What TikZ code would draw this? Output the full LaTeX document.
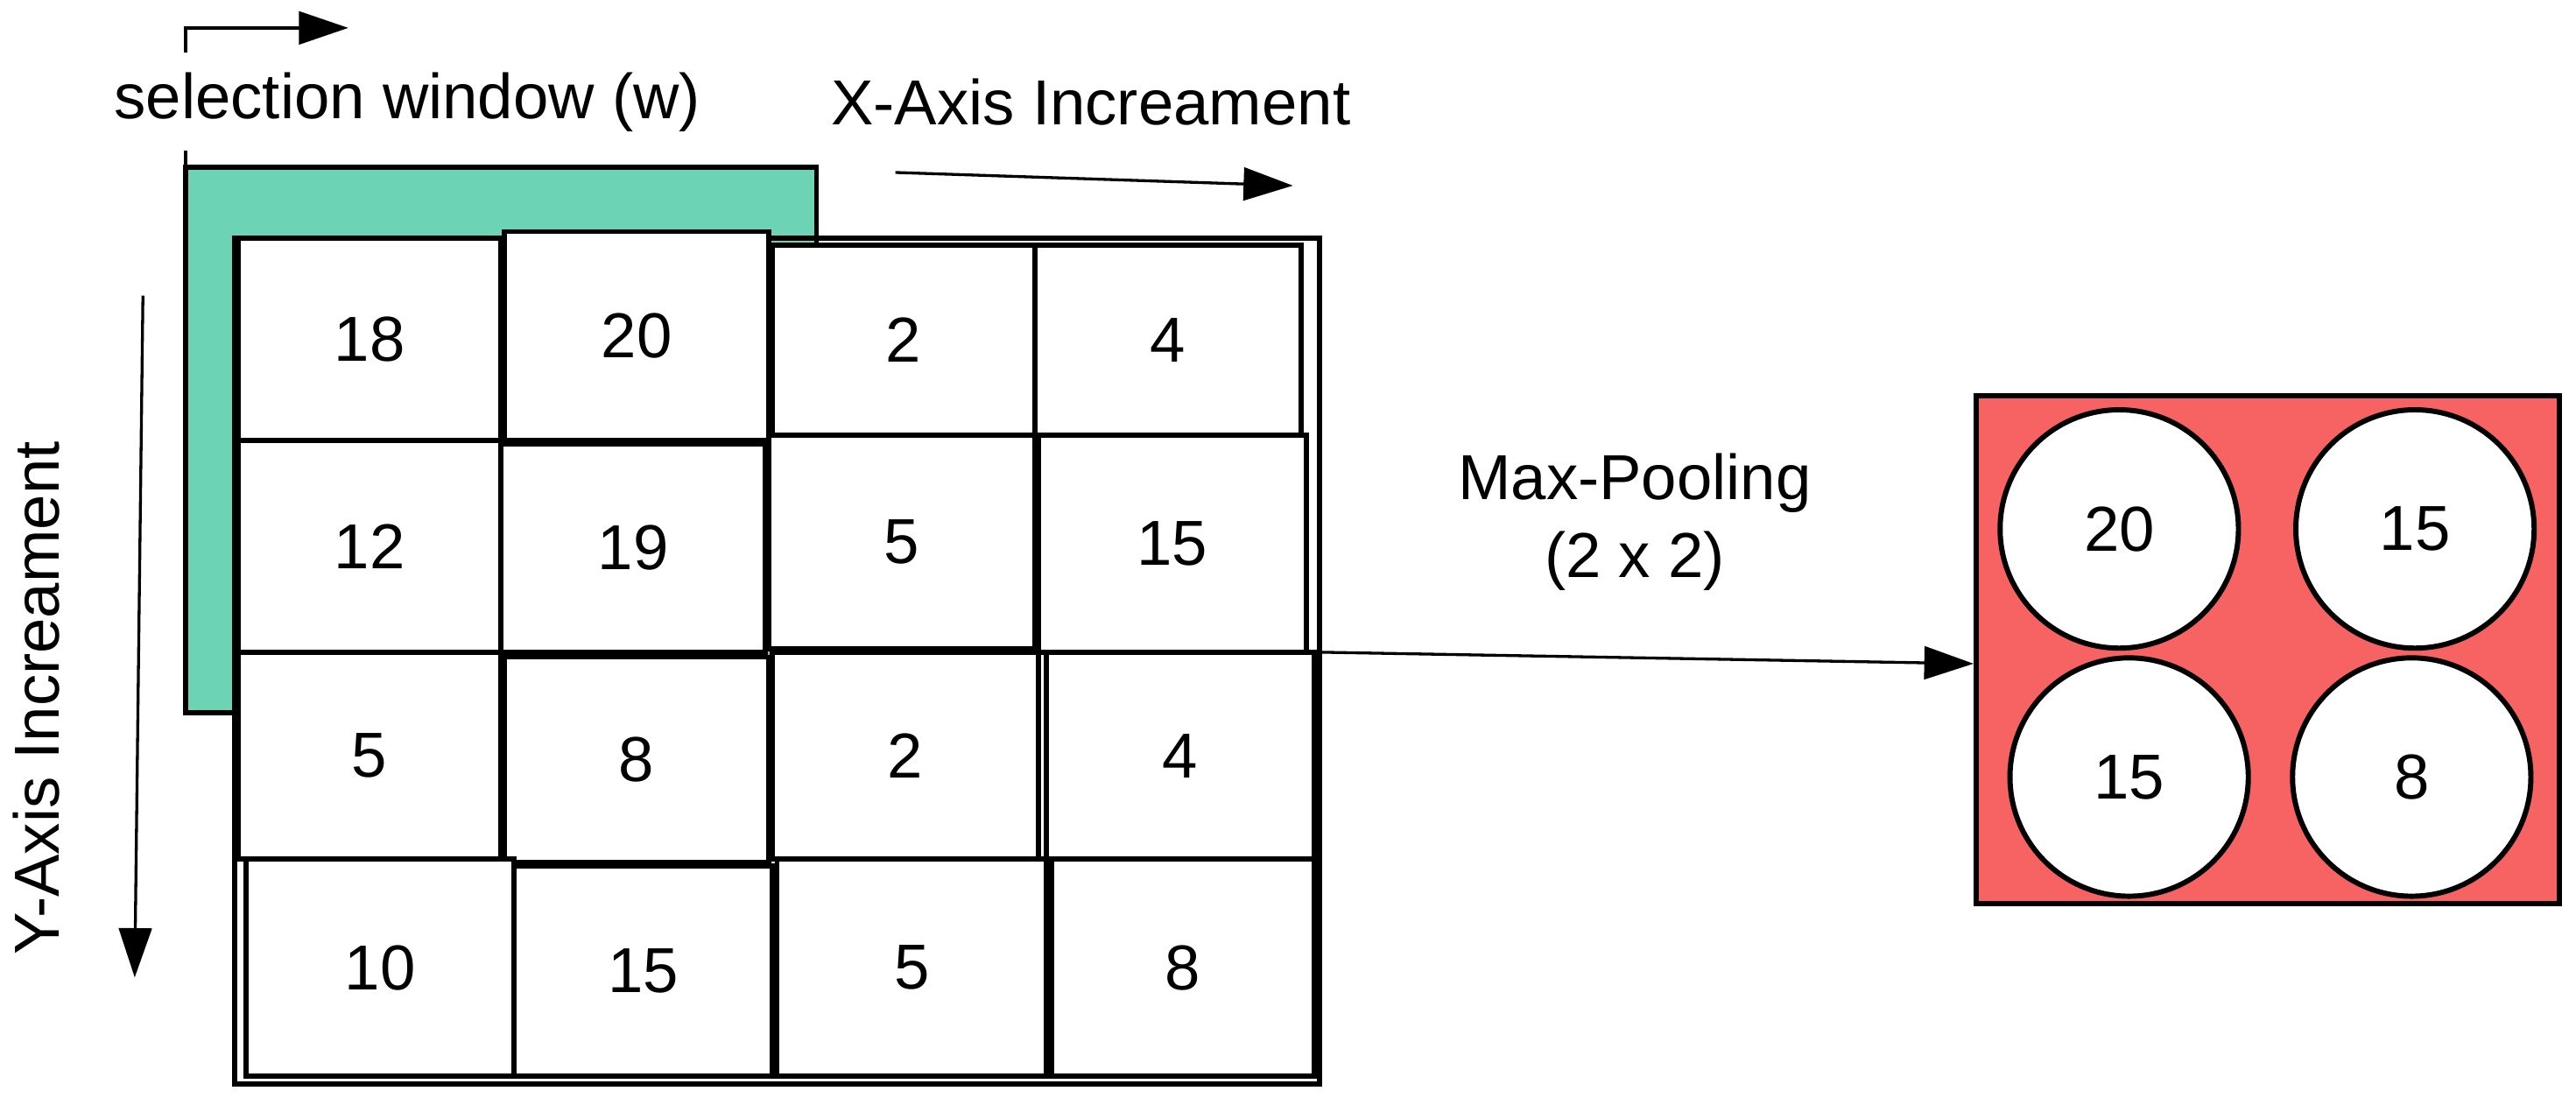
\documentclass[tikz,border=0pt]{standalone}
\usepackage{fontspec}
\setmainfont{Liberation Sans}
\usetikzlibrary{arrows.meta}
\definecolor{teal1}{HTML}{6DD3B5}
\definecolor{red1}{HTML}{F76262}
\begin{document}
\begin{tikzpicture}[x=0.01cm,y=-0.01cm,font=\fontsize{11}{13.5}\selectfont,
 cell/.style={draw,line width=0.9pt,fill=white},
 circ/.style={draw,line width=0.9pt,fill=white,circle,minimum size=1.45cm,inner sep=0pt},
 arr/.style={line width=0.5pt,-{Triangle[length=0.3cm,width=0.2cm]}}]
\useasboundingbox (0,0) rectangle (1568,668);
\fill[white] (0,0) rectangle (1568,668);
\draw[line width=0.9pt,fill=teal1] (113,102) rectangle (497,434);
\draw[line width=0.9pt] (143,145) rectangle (803,660);
\foreach \a/\b/\c/\d/\v [count=\i] in {
145/145/305/268/18, 307/141/468/268/20, 470/149/630/265/2, 630/149/792/265/4,
145/268/305/397/12, 305/270/466/397/19, 468/265/630/395/5, 632/265/795/397/15,
145/397/305/523/5, 307/400/468/525/8, 470/397/632/523/2, 637/397/800/523/4,
150/523/313/655/10, 313/527/470/655/15, 473/523/637/655/5, 640/523/800/655/8}{
 \draw[cell] (\a,\b) rectangle (\c,\d);
 \node (c\i) at ({(\a+\c)/2},{(\b+\d)/2}) {\v};
}
\coordinate (s0) at (113,100);
\coordinate (s1) at (113,17);
\coordinate (s2) at (212,17);
\draw[arr] (s0) -- (s1) -- (s2);
\node[fill=white] (sw) at (248,62) {selection window (w)};
\node (xa) at (664,62) {X-Axis Increament};
\coordinate (x0) at (545,105);
\coordinate (x1) at (787,113);
\draw[arr] (x0) -- (x1);
\coordinate (y0) at (87,180);
\coordinate (y1) at (82,595);
\draw[arr] (y0) -- (y1);
\node[rotate=90] (ya) at (22,425) {Y-Axis Increament};
\node[draw,line width=0.9pt,fill=red1,minimum width=3.55cm,minimum height=3.09cm,inner sep=0pt] (pool) at (1380.5,395.5) {};
\node[circ] (p1) at (1290,322) {20};
\node[circ] (p2) at (1470,322) {15};
\node[circ] (p3) at (1296,473) {15};
\node[circ] (p4) at (1468,473) {8};
\coordinate (m0) at (803,397);
\draw[arr] (m0) -- (pool.west |- 0,404);
\node[align=center] (ml) at (995,318) {Max-Pooling\\(2 x 2)};
\end{tikzpicture}
\end{document}
